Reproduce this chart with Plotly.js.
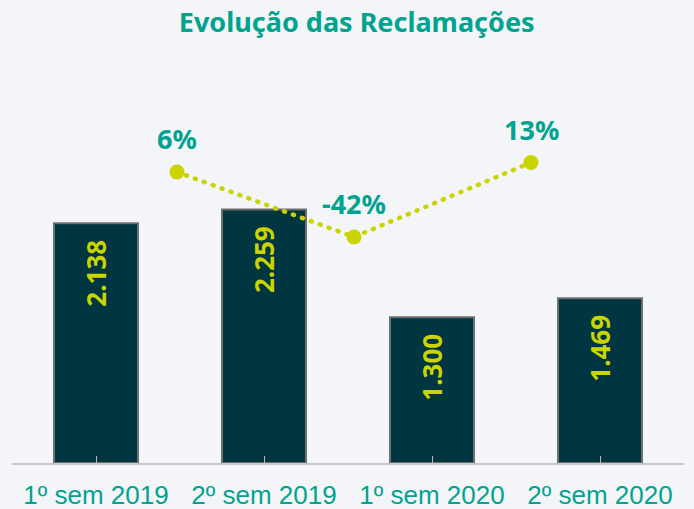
<!DOCTYPE html>
<html>
<head>
<meta charset="utf-8">
<script src="https://cdn.plot.ly/plotly-3.0.1.min.js"></script>
<style>
html,body{margin:0;padding:0;background:#f3f5f9;}
#chart{width:694px;height:509px;}
.scatterlayer .js-line{stroke-linecap:round;}
</style>
</head>
<body>
<div id="chart"></div>
<script>
const categories = ["1º sem 2019", "2º sem 2019", "1º sem 2020", "2º sem 2020"];
const complaints = [2138, 2259, 1300, 1469];
const complaintLabels = ["2.138", "2.259", "1.300", "1.469"];
const changePositions = [1, 2, 3];
const changeValues = [6, -42, 13];
const changeLabels = ["6%", "-42%", "13%"];

const teal = "#00a38e";
const lime = "#c9d400";

const bars = {
  type: "bar",
  x: categories,
  y: complaints,
  marker: {color: "#003641", line: {color: "#6e6e6e", width: 2}},
  hoverinfo: "skip"
};

const line = {
  type: "scatter",
  mode: "lines+markers",
  x: changePositions,
  y: changeValues,
  xaxis: "x2",
  yaxis: "y2",
  marker: {color: lime, size: 15},
  line: {color: lime, width: 4.5, dash: "1px,8.5px"},
  cliponaxis: false,
  hoverinfo: "skip"
};

const barAnnotations = categories.map((c, i) => ({
  x: c, y: complaints[i], xref: "x", yref: "y",
  text: complaintLabels[i],
  textangle: -90,
  showarrow: false,
  xanchor: "center", yanchor: "top",
  yshift: -15,
  font: {family: "Noto Sans, sans-serif", size: 26, color: lime, weight: "bold"}
}));

const changeAnnotations = changePositions.map((p, i) => ({
  x: p, y: changeValues[i], xref: "x2", yref: "y2",
  text: changeLabels[i],
  showarrow: false,
  xanchor: "center", yanchor: "middle",
  yshift: 33,
  font: {family: "Noto Sans, sans-serif", size: 27, color: teal, weight: "bold"}
}));

const layout = {
  width: 694,
  height: 509,
  paper_bgcolor: "#f3f5f9",
  plot_bgcolor: "#f3f5f9",
  margin: {l: 12, r: 10, t: 60, b: 46},
  showlegend: false,
  bargap: 0.5,
  title: {
    text: "Evolução das Reclamações",
    font: {family: "Noto Sans, sans-serif", size: 27, color: teal, weight: "bold"},
    x: 356 / 694, xanchor: "center", xref: "paper",
    y: 1 - 23 / 509, yanchor: "middle", yref: "container"
  },
  xaxis: {
    type: "category",
    range: [-0.5, 3.5],
    showline: true, linecolor: "#c8c8c8", linewidth: 2,
    ticks: "inside", ticklen: 7, tickcolor: "#b8b8b8", tickwidth: 1,
    tickfont: {family: "Liberation Sans, Arial, sans-serif", size: 26, color: teal},
    ticklabelstandoff: 8,
    showgrid: false, zeroline: false, fixedrange: true
  },
  yaxis: {
    range: [0, 3592],
    visible: false, showgrid: false, zeroline: false, fixedrange: true
  },
  xaxis2: {
    overlaying: "x",
    range: [12 / 177, 684 / 177],
    visible: false, showgrid: false, zeroline: false
  },
  yaxis2: {
    overlaying: "y",
    range: [-208.9, 88.7],
    visible: false, showgrid: false, zeroline: false
  },
  annotations: barAnnotations.concat(changeAnnotations)
};

Plotly.newPlot("chart", [bars, line], layout, {displayModeBar: false, staticPlot: true});
</script>
</body>
</html>
